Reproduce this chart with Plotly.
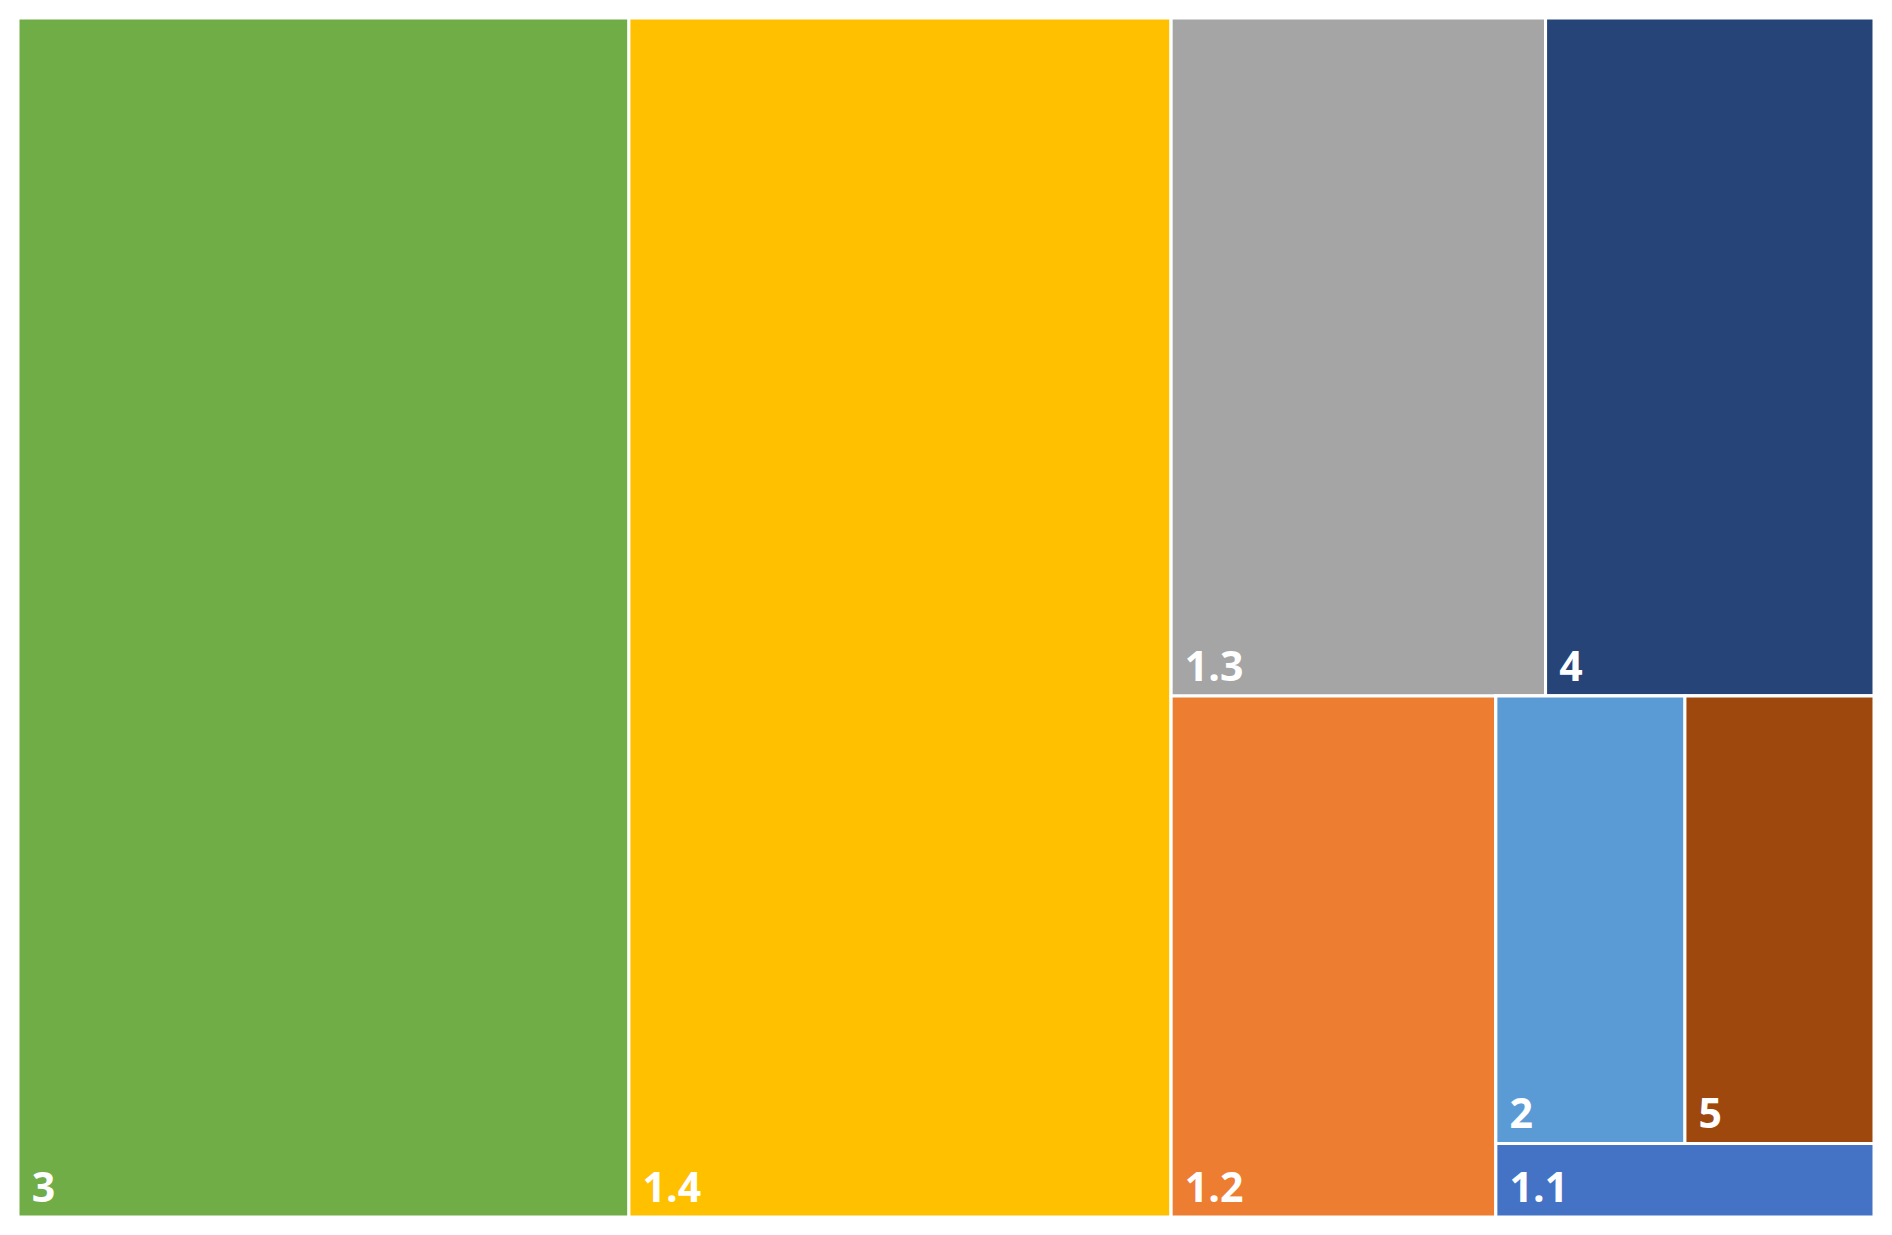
import plotly.graph_objects as go

# tile labels and their sizes (share of the whole area, %)
LABELS = ['3', '1.4', '1.3', '4', '1.2', '2', '5', '1.1']
VALUES = [32.9, 29.2, 11.4, 10.0, 7.6, 3.8, 3.8, 1.25]
COLOURS = ['#70AD47', '#FFC000', '#A5A5A5', '#264478',
           '#ED7D31', '#5B9BD5', '#9E480E', '#4472C4']
PARENTS = ['all', 'all', 'top', 'top', 'bottom', 'pair', 'pair', 'small']

# invisible groups that reproduce the Excel tile arrangement (slice / dice alternating)
GROUPS = {'all': '', 'right': 'all', 'top': 'right', 'bottom': 'right',
          'small': 'bottom', 'pair': 'small'}
# order of nodes (siblings are packed in this order)
ORDER = ['all', '3', '1.4', 'right', 'top', '1.3', '4', 'bottom', '1.2',
         'small', 'pair', '2', '5', '1.1']

ids, labels, parents, values, colours = [], [], [], [], []
for node in ORDER:
    ids.append(node)
    if node in GROUPS:
        labels.append('')
        parents.append(GROUPS[node])
        values.append(0)
        colours.append('white')
    else:
        i = LABELS.index(node)
        labels.append(LABELS[i])
        parents.append(PARENTS[i])
        values.append(VALUES[i])
        colours.append(COLOURS[i])

fig = go.Figure(go.Treemap(
    ids=ids,
    labels=labels,
    parents=parents,
    values=values,
    branchvalues='remainder',
    sort=False,
    tiling={'packing': 'slice-dice', 'pad': 0},
    pathbar={'visible': False},
    marker={'colors': colours, 'depthfade': False,
            'line': {'color': 'white', 'width': 3},
            'pad': {'t': 0, 'l': 0, 'r': 0, 'b': 0}},
    textinfo='label',
    texttemplate='\u00a0<b>%{label}</b>',
    textposition='bottom left',
    textfont={'family': 'Open Sans', 'size': 41, 'color': 'white'},
    hoverinfo='label+value',
))

fig.update_layout(width=1892, height=1235,
                  margin={'l': 10, 'r': 26, 't': 10, 'b': 26},
                  paper_bgcolor='white')

fig.write_html('out.html')
